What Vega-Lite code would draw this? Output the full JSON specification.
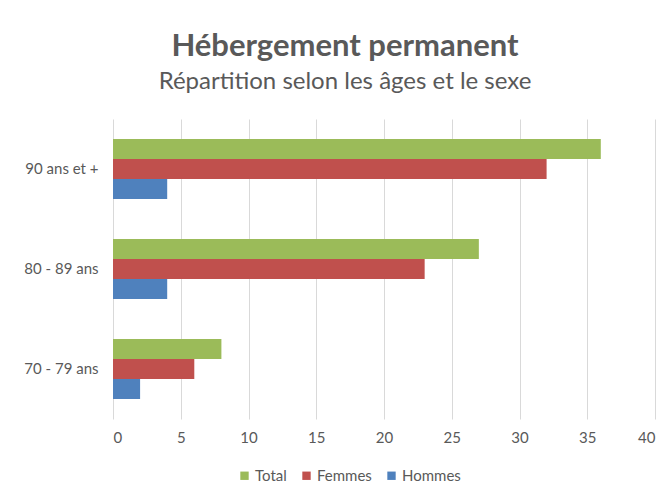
{
  "$schema": "https://vega.github.io/schema/vega-lite/v6.json",
  "width": 542,
  "height": 300,
  "autosize": {"type": "none"},
  "padding": {"left": 113, "top": 119, "right": 13, "bottom": 76},
  "background": "white",
  "title": {
    "text": "Hébergement permanent",
    "subtitle": "Répartition selon les âges et le sexe",
    "anchor": "middle",
    "frame": "group",
    "dx": -39,
    "offset": 24,
    "font": "Lato",
    "fontSize": 31,
    "fontWeight": "bold",
    "color": "#595959",
    "subtitleFont": "Lato",
    "subtitleFontSize": 24,
    "subtitleColor": "#595959",
    "subtitlePadding": 7
  },
  "data": {
    "values": [
      {"age": "90 ans et +", "serie": "Total", "valeur": 36},
      {"age": "90 ans et +", "serie": "Femmes", "valeur": 32},
      {"age": "90 ans et +", "serie": "Hommes", "valeur": 4},
      {"age": "80 - 89 ans", "serie": "Total", "valeur": 27},
      {"age": "80 - 89 ans", "serie": "Femmes", "valeur": 23},
      {"age": "80 - 89 ans", "serie": "Hommes", "valeur": 4},
      {"age": "70 - 79 ans", "serie": "Total", "valeur": 8},
      {"age": "70 - 79 ans", "serie": "Femmes", "valeur": 6},
      {"age": "70 - 79 ans", "serie": "Hommes", "valeur": 2}
    ]
  },
  "mark": {"type": "bar"},
  "encoding": {
    "y": {
      "field": "age",
      "type": "nominal",
      "sort": ["90 ans et +", "80 - 89 ans", "70 - 79 ans"],
      "scale": {"paddingInner": 0.4, "paddingOuter": 0.2},
      "axis": {
        "title": null,
        "domain": false,
        "ticks": false,
        "labelFont": "Lato",
        "labelFontSize": 15,
        "labelColor": "#595959",
        "labelPadding": 15
      }
    },
    "yOffset": {
      "field": "serie",
      "type": "nominal",
      "sort": ["Total", "Femmes", "Hommes"]
    },
    "x": {
      "field": "valeur",
      "type": "quantitative",
      "scale": {"domain": [0, 40], "nice": false},
      "axis": {
        "title": null,
        "values": [0, 5, 10, 15, 20, 25, 30, 35, 40],
        "domain": false,
        "ticks": false,
        "grid": true,
        "gridColor": "#D9D9D9",
        "labelFont": "Lato",
        "labelFontSize": 15,
        "labelColor": "#595959",
        "labelPadding": 11
      }
    },
    "color": {
      "field": "serie",
      "type": "nominal",
      "sort": ["Total", "Femmes", "Hommes"],
      "scale": {"domain": ["Total", "Femmes", "Hommes"], "range": ["#9BBB59", "#C0504D", "#4F81BD"]},
      "legend": {
        "title": null,
        "orient": "none",
        "direction": "horizontal",
        "legendX": 124,
        "legendY": 349,
        "symbolType": "square",
        "symbolSize": 70,
        "symbolStrokeWidth": 0,
        "labelFont": "Lato",
        "labelFontSize": 15,
        "labelColor": "#595959",
        "columnPadding": 12,
        "labelOffset": 3
      }
    }
  },
  "config": {"view": {"stroke": null}}
}
